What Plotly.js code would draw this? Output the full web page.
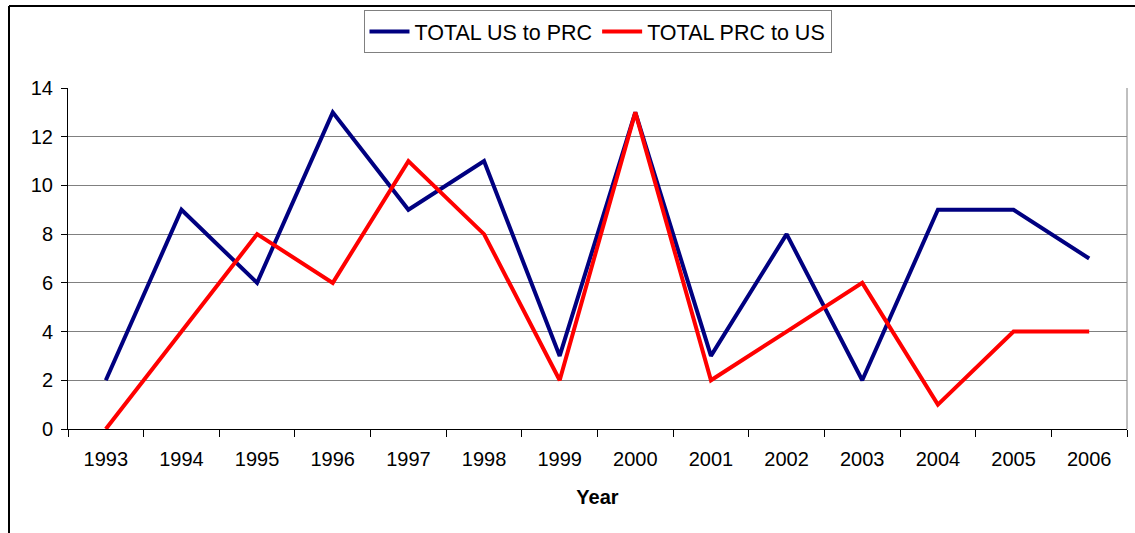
<!DOCTYPE html>
<html><head><meta charset="utf-8">
<script src="https://cdn.plot.ly/plotly-3.0.1.min.js"></script>
<style>body{margin:0;padding:0;background:#fff;}#c{width:1135px;height:533px;}</style>
</head><body><div id="c"></div>
<script>
const years = ["1993","1994","1995","1996","1997","1998","1999","2000","2001","2002","2003","2004","2005","2006"];
const usToPrc = [2, 9, 6, 13, 9, 11, 3, 13, 3, 8, 2, 9, 9, 7];
const prcToUs = [0, 4, 8, 6, 11, 8, 2, 13, 2, 4, 6, 1, 4, 4];
const yTicks = [0, 2, 4, 6, 8, 10, 12, 14];

const L = 68, R = 8, T = 88, B = 104, W = 1135, H = 533;
const pw = W - L - R, ph = H - T - B;
const px = x => (x - L) / pw;
const py = y => (H - B - y) / ph;

const traces = [
  {x: years, y: usToPrc, name: "TOTAL US to PRC", type: "scatter", mode: "lines",
   line: {color: "#000080", width: 4}},
  {x: years, y: prcToUs, name: "TOTAL PRC to US", type: "scatter", mode: "lines",
   line: {color: "#FF0000", width: 4}}
];

const layout = {
  width: W, height: H,
  margin: {l: L, r: R, t: T, b: B, pad: 0},
  paper_bgcolor: "#fff", plot_bgcolor: "#fff",
  font: {family: "Arial, 'Liberation Sans', sans-serif", size: 20, color: "#000"},
  showlegend: true,
  legend: {orientation: "h", x: 0.5, xanchor: "center", y: py(10), yanchor: "top",
    bordercolor: "#808080", borderwidth: 1, bgcolor: "#fff",
    font: {size: 21.5}, itemwidth: 40, tracegroupgap: 0},
  xaxis: {type: "category", tickson: "boundaries", ticks: "outside", ticklen: 7,
    tickcolor: "#000", showgrid: false, showline: true, linecolor: "#000", linewidth: 1,
    tickfont: {size: 20}, range: [-0.5, 13.5], zeroline: false, ticklabelstandoff: 12,
    title: {text: "<b>Year</b>", font: {size: 20}, standoff: 20}},
  yaxis: {range: [0, 14], tickvals: yTicks, ticks: "outside", ticklen: 6, tickcolor: "#000",
    showline: true, linecolor: "#000", linewidth: 1, gridcolor: "#808080", gridwidth: 1,
    zeroline: false, tickfont: {size: 20}, ticklabelstandoff: 4},
  shapes: [
    {type: "line", xref: "paper", yref: "paper", x0: 1, x1: 1, y0: 0, y1: 1,
     line: {color: "#808080", width: 1}},
    {type: "line", xref: "paper", yref: "paper", x0: px(9), x1: px(9), y0: py(6), y1: py(545),
     line: {color: "#000", width: 2}},
    {type: "line", xref: "paper", yref: "paper", x0: px(9), x1: px(1145), y0: py(6), y1: py(6),
     line: {color: "#000", width: 2}}
  ]
};
Plotly.newPlot("c", traces, layout, {displayModeBar: false, staticPlot: true});
</script></body></html>
